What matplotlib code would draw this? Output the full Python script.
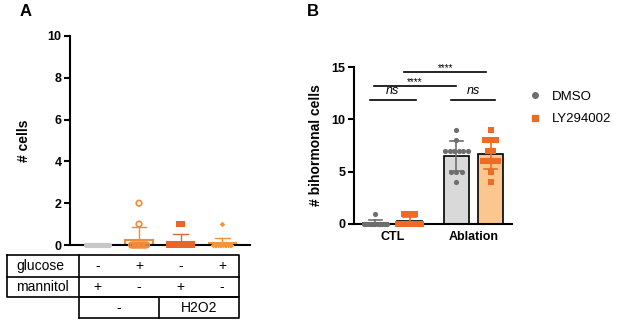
import numpy as np
import matplotlib.pyplot as plt
from matplotlib.lines import Line2D

plt.rcParams['font.family'] = ['Liberation Sans', 'DejaVu Sans']

# ---- panel A data (number of cells per condition)
a_labels_glucose = ['-', '+', '-', '+']
a_labels_mannitol = ['+', '-', '+', '-']
a_treat = ['-', 'H2O2']
a_groups = [
    [0] * 16,
    [2, 1] + [0] * 10,
    [1, 1, 1] + [0] * 17,
    [1] + [0] * 12,
]
a_colors = ['#c8c8c8', '#f28a3a', '#e8652c', '#f29440']
a_markers = ['o', 'o', 's', 'D']
a_filled = [True, False, True, True]

# ---- panel B data (bihormonal cells)
b_categories = ['CTL', 'Ablation']
b_series = ['DMSO', 'LY294002']
b_dmso = [
    [1] + [0] * 11,
    [9, 8, 7, 7, 7, 7, 7, 7, 5, 5, 5, 4],
]
b_ly = [
    [1, 1, 1] + [0] * 9,
    [9, 8, 8, 8, 7, 7, 6, 6, 6, 6, 5, 4],
]

W, H = 617, 330
fig = plt.figure(figsize=(W / 100, H / 100), dpi=100)


def px_rect(x0, y0, x1, y1):
    # pixel box (top-left origin) -> figure fraction rect
    return [x0 / W, 1 - y1 / H, (x1 - x0) / W, (y1 - y0) / H]


def swarm(vals, center, step, maxw):
    vals = np.asarray(vals, dtype=float)
    xs = np.zeros(len(vals))
    for v in np.unique(vals):
        idx = np.where(vals == v)[0]
        n = len(idx)
        st = step if n < 2 else min(step, maxw / (n - 1))
        xs[idx] = center + (np.arange(n) - (n - 1) / 2) * st
    return xs, vals


# ================= Panel A =================
axA = fig.add_axes(px_rect(70, 36, 250, 245))
for i, vals in enumerate(a_groups):
    m = np.mean(vals)
    sd = np.std(vals, ddof=1)
    c = a_colors[i]
    axA.bar(i, m, width=0.65, facecolor='none', edgecolor=c, linewidth=1.5, zorder=2)
    axA.plot([i, i], [m, m + sd], color=c, lw=1.0, zorder=2)
    axA.plot([i - 0.18, i + 0.18], [m + sd, m + sd], color=c, lw=1.0, zorder=2)
    xs, ys = swarm(vals, i, 0.04, 0.55)
    if a_filled[i]:
        axA.scatter(xs, ys, s=14 if a_markers[i] != 'D' else 8, marker=a_markers[i],
                    color=c, zorder=3, clip_on=False, linewidths=0)
    else:
        axA.scatter(xs, ys, s=16, marker=a_markers[i], facecolor='none',
                    edgecolor=c, linewidths=1.2, zorder=3, clip_on=False)
axA.set_xlim(-0.66, 3.67)
axA.set_ylim(0, 10)
axA.set_yticks([0, 2, 4, 6, 8, 10])
axA.set_xticks([])
axA.set_ylabel('# cells', fontsize=10, fontweight='bold', labelpad=12)
for sp in ['top', 'right']:
    axA.spines[sp].set_visible(False)
axA.spines['left'].set_linewidth(1.5)
axA.spines['bottom'].set_linewidth(1.5)
axA.tick_params(axis='y', width=1.5, length=4, labelsize=9, pad=2)
for t in axA.get_yticklabels():
    t.set_fontweight('bold')

# table under panel A (pixel coords)
tab = fig.add_axes([0, 0, 1, 1])
tab.set_xlim(0, W)
tab.set_ylim(H, 0)
tab.axis('off')
lw = 1.2
col_x = [97.5, 139, 180.5, 222]
tab.plot([7, 239, 239, 7, 7], [255, 255, 297, 297, 255], color='black', lw=lw)
tab.plot([7, 239], [277, 277], color='black', lw=lw)
tab.plot([79, 79], [255, 318], color='black', lw=lw)
tab.plot([79, 239, 239, 79], [318, 318, 297, 297], color='black', lw=lw)
tab.plot([159, 159], [297, 318], color='black', lw=lw)
tab.text(16, 266, 'glucose', fontsize=10, va='center', ha='left')
tab.text(16, 287, 'mannitol', fontsize=10, va='center', ha='left')
for x, g, mn in zip(col_x, a_labels_glucose, a_labels_mannitol):
    tab.text(x, 266, g, fontsize=10, va='center', ha='center')
    tab.text(x, 287, mn, fontsize=10, va='center', ha='center')
tab.text(119, 308, a_treat[0], fontsize=10, va='center', ha='center')
tab.text(199, 308, a_treat[1], fontsize=10, va='center', ha='center')

# ================= Panel B =================
axB = fig.add_axes(px_rect(354, 67, 512, 224))
pos_dmso = [0, 1.0]
pos_ly = [0.42, 1.42]
for j in range(2):
    for vals, p, fc, pc, mk in [(b_dmso[j], pos_dmso[j], '#d9d9d9', '#6e6e6e', 'o'),
                                (b_ly[j], pos_ly[j], '#fcc68f', '#ef6a24', 's')]:
        m = np.mean(vals)
        sd = np.std(vals, ddof=1)
        axB.bar(p, m, width=0.32, facecolor=fc, edgecolor='black', linewidth=1.2, zorder=1)
        xs, ys = swarm(vals, p, 0.065, 0.28)
        axB.scatter(xs, ys, s=14 if mk == 'o' else 16, marker=mk, color=pc,
                    linewidths=0, zorder=3, clip_on=False)
        axB.plot([p, p], [max(m - sd, 0), m + sd], color=pc, lw=1.2, zorder=4)
        axB.plot([p - 0.08, p + 0.08], [m + sd, m + sd], color=pc, lw=1.2, zorder=4)
        if m - sd > 0:
            axB.plot([p - 0.08, p + 0.08], [m - sd, m - sd], color=pc, lw=1.2, zorder=4)
axB.set_xlim(-0.265, 1.685)
axB.set_ylim(0, 15)
axB.set_yticks([0, 5, 10, 15])
axB.set_xticks([(pos_dmso[k] + pos_ly[k]) / 2 for k in range(2)])
axB.set_xticklabels(b_categories, fontsize=9, fontweight='bold')
axB.tick_params(axis='x', length=0, pad=5)
axB.tick_params(axis='y', width=1.5, length=4, labelsize=9, pad=2)
for t in axB.get_yticklabels():
    t.set_fontweight('bold')
axB.set_ylabel('# bihormonal cells', fontsize=10, fontweight='bold', labelpad=6)
for sp in ['top', 'right']:
    axB.spines[sp].set_visible(False)
axB.spines['left'].set_linewidth(1.5)
axB.spines['bottom'].set_linewidth(1.5)

# significance brackets
sig = [(-0.07, 0.5, 11.8, 'ns'), (0.93, 1.48, 11.8, 'ns'),
       (-0.02, 0.99, 13.2, '****'), (0.35, 1.37, 14.5, '****')]
for x0, x1, y, lab in sig:
    axB.plot([x0, x1], [y, y], color='black', lw=1.2, clip_on=False)
    if lab == 'ns':
        axB.text((x0 + x1) / 2, y + 0.3, lab, ha='center', va='bottom',
                 fontsize=9, style='italic')
    else:
        axB.text((x0 + x1) / 2, y - 0.1, lab, ha='center', va='bottom', fontsize=7)

handles = [Line2D([], [], marker='o', color='#6e6e6e', ls='none', markersize=4),
           Line2D([], [], marker='s', color='#ef6a24', ls='none', markersize=4)]
fig.legend(handles, b_series, loc='upper left', bbox_to_anchor=(520 / W, 1 - 85 / H),
           frameon=False, fontsize=9.5, handletextpad=0.5, labelspacing=0.8,
           borderaxespad=0, handlelength=1.5)

fig.text(20 / W, 1 - 12 / H, 'A', fontsize=12, fontweight='bold', va='center')
fig.text(307 / W, 1 - 12 / H, 'B', fontsize=12, fontweight='bold', va='center')

fig.savefig('out.png', dpi=100)
